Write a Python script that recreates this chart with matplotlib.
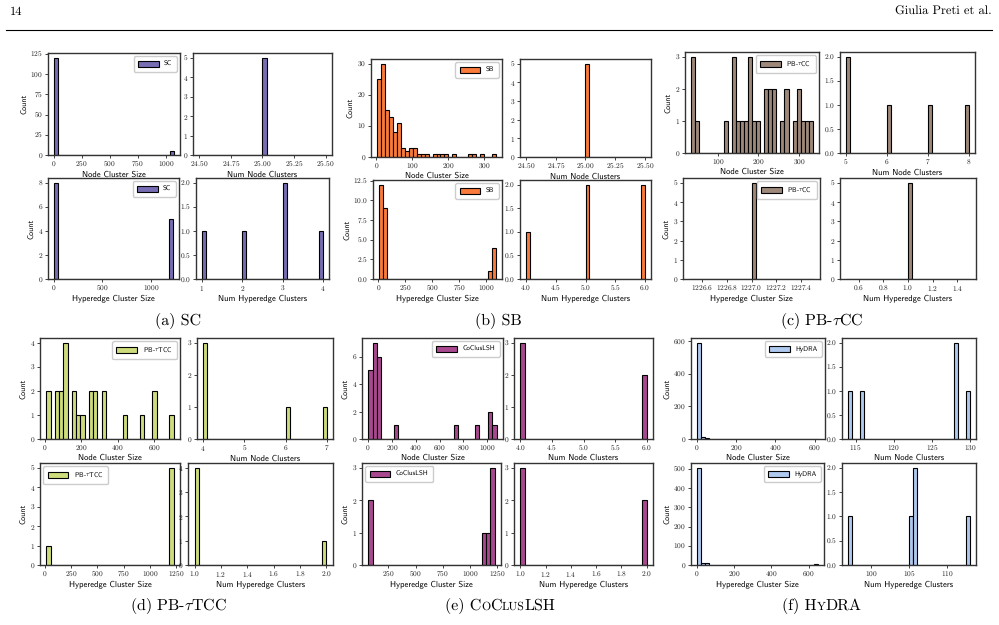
import numpy as np
import matplotlib
matplotlib.use("Agg")
import matplotlib.pyplot as plt
from matplotlib.ticker import MultipleLocator, ScalarFormatter
from matplotlib.lines import Line2D

plt.rcParams["font.family"] = ["cmr10", "DejaVu Serif"]
plt.rcParams["mathtext.fontset"] = "cm"
plt.rcParams["axes.formatter.use_mathtext"] = True
plt.rcParams["text.hinting"] = "no_hinting"
plt.rcParams["text.hinting_factor"] = 1

W, H = 999, 625

# --- data: histogram bin counts (30 bins) for cluster sizes, raw values for cluster counts ---
sc_node_size_counts = [120, 0, 0, 0, 0, 0, 0, 0, 0, 0, 0, 0, 0, 0, 0,
                       0, 0, 0, 0, 0, 0, 0, 0, 0, 0, 0, 0, 0, 0, 5]
sc_node_size_range = (3, 1072)
sc_hyper_size_counts = [8, 0, 0, 0, 0, 0, 0, 0, 0, 0, 0, 0, 0, 0, 0,
                        0, 0, 0, 0, 0, 0, 0, 0, 0, 0, 0, 0, 0, 0, 5]
sc_hyper_size_range = (3, 1227)
sc_num_nodes = [25, 25, 25, 25, 25]
sc_num_hyper = [1, 2, 3, 3, 4]

sb_node_size_counts = [25, 30, 15, 13, 8, 11, 3, 2, 3, 3, 1, 1, 1, 0, 1,
                       1, 1, 1, 0, 1, 0, 0, 0, 1, 1, 0, 1, 0, 0, 1]
sb_node_size_range = (2, 333)
sb_hyper_size_counts = [12, 9, 0, 0, 0, 0, 0, 0, 0, 0, 0, 0, 0, 0, 0,
                        0, 0, 0, 0, 0, 0, 0, 0, 0, 0, 0, 0, 0, 1, 4]
sb_hyper_size_range = (4, 1091)
sb_num_nodes = [25, 25, 25, 25, 25]
sb_num_hyper = [4, 5, 5, 6, 6]

pbcc_node_size_counts = [3, 1, 0, 0, 0, 0, 0, 0, 1, 0, 3, 1, 1, 1, 3,
                         1, 1, 0, 2, 2, 2, 0, 1, 2, 0, 1, 2, 1, 1, 1]
pbcc_node_size_range = (34, 334)
pbcc_hyper_size_counts = [0, 0, 0, 0, 0, 0, 0, 0, 0, 0, 0, 0, 0, 0, 0,
                          5, 0, 0, 0, 0, 0, 0, 0, 0, 0, 0, 0, 0, 0, 0]
pbcc_hyper_size_range = (1226.5, 1227.5)
pbcc_num_nodes = [5, 5, 6, 7, 8]
pbcc_num_hyper = [1, 1, 1, 1, 1]

pbtcc_node_size_counts = [2, 0, 2, 2, 4, 0, 2, 1, 1, 0, 2, 2, 0, 2, 0,
                          0, 0, 0, 1, 0, 0, 0, 1, 0, 0, 2, 0, 0, 0, 1]
pbtcc_node_size_range = (9, 705)
pbtcc_hyper_size_counts = [1, 0, 0, 0, 0, 0, 0, 0, 0, 0, 0, 0, 0, 0, 0,
                           0, 0, 0, 0, 0, 0, 0, 0, 0, 0, 0, 0, 0, 0, 5]
pbtcc_hyper_size_range = (16, 1227)
pbtcc_num_nodes = [4, 4, 4, 6, 7]
pbtcc_num_hyper = [1, 1, 1, 1, 2]

cocl_node_size_counts = [5, 7, 6, 0, 0, 0, 1, 0, 0, 0, 0, 0, 0, 0, 0,
                         0, 0, 0, 0, 0, 1, 0, 0, 0, 0, 1, 0, 0, 2, 1]
cocl_node_size_range = (3, 1078)
cocl_hyper_size_counts = [2, 0, 0, 0, 0, 0, 0, 0, 0, 0, 0, 0, 0, 0, 0,
                          0, 0, 0, 0, 0, 0, 0, 0, 0, 0, 0, 0, 1, 1, 3]
cocl_hyper_size_range = (65, 1227)
cocl_num_nodes = [4, 4, 4, 6, 6]
cocl_num_hyper = [1, 1, 1, 2, 2]

hydra_node_size_counts = [590, 14, 6, 0, 0, 0, 0, 0, 0, 0, 0, 0, 0, 0, 0,
                          0, 0, 0, 0, 0, 0, 0, 0, 0, 0, 0, 0, 0, 0, 2]
hydra_node_size_range = (1, 622)
hydra_hyper_size_counts = [505, 10, 8, 0, 0, 0, 0, 0, 0, 0, 0, 0, 0, 0, 0,
                           0, 0, 0, 0, 0, 0, 0, 0, 0, 0, 0, 0, 0, 0, 4]
hydra_hyper_size_range = (1, 650)
hydra_num_nodes = [114, 116, 128, 128, 130]
hydra_num_hyper = [97, 105, 106, 106, 113]

methods = ["SC", "SB", r"PB-$\tau$CC", r"PB-$\tau$TCC", "CoClusLSH", "HyDRA"]
colors = ["#766db3", "#f97a3b", "#9d8879", "#cfdc7c", "#a8488f", "#afc8ee"]

fig = plt.figure(figsize=(W / 100, H / 100), dpi=100)


def add_ax(l, r, t, b):
    return fig.add_axes([l / W, 1 - b / H, (r - l) / W, (b - t) / H])


def style(ax, xstep, ystep, xlabel, ylabel=None, offset=True):
    ax.xaxis.set_major_locator(MultipleLocator(xstep))
    ax.yaxis.set_major_locator(MultipleLocator(ystep))
    if not offset:
        ax.xaxis.set_major_formatter(ScalarFormatter(useOffset=False))
    ax.tick_params(labelsize=5.3, length=2, width=0.6, pad=1.5, colors="#222222")
    for s in ax.spines.values():
        s.set_linewidth(1.0)
        s.set_color("#333333")
    ax.set_xlabel(xlabel, family="cmss10", fontsize=6.2, labelpad=1)
    if ylabel:
        ax.set_ylabel(ylabel, family="cmss10", fontsize=5.8, labelpad=2)


def size_hist(ax, counts, rng, color, label, loc):
    edges = np.linspace(rng[0], rng[1], len(counts) + 1)
    ax.bar(edges[:-1], counts, width=np.diff(edges), align="edge",
           color=color, edgecolor="black", linewidth=0.8, label=label)
    ax.legend(loc=loc, prop={"family": "cmss10", "size": 5},
              handlelength=3.0, handleheight=1.0, borderpad=0.6,
              edgecolor="0.8", framealpha=1)


def num_hist(ax, values, color):
    ax.hist(values, bins=30, color=color, edgecolor="black", linewidth=0.8)


panels = [
    dict(m=0, ns=(sc_node_size_counts, sc_node_size_range), nn=sc_num_nodes,
         hs=(sc_hyper_size_counts, sc_hyper_size_range), hn=sc_num_hyper,
         steps=[(250, 25), (0.25, 1), (500, 2), (1, 0.5)], locs=["upper right", "upper right"],
         pos=[(48, 180, 53, 155), (193, 332, 53, 155), (48, 179, 178, 279), (196, 329, 178, 279)]),
    dict(m=1, ns=(sb_node_size_counts, sb_node_size_range), nn=sb_num_nodes,
         hs=(sb_hyper_size_counts, sb_hyper_size_range), hn=sb_num_hyper,
         steps=[(100, 10), (0.25, 1), (250, 2.5), (0.5, 0.5)], locs=["upper right", "upper right"],
         pos=[(371, 502, 59, 157), (520, 651, 59, 157), (373, 502, 180, 279), (520, 651, 180, 279)]),
    dict(m=2, ns=(pbcc_node_size_counts, pbcc_node_size_range), nn=pbcc_num_nodes,
         hs=(pbcc_hyper_size_counts, pbcc_hyper_size_range), hn=pbcc_num_hyper,
         steps=[(100, 1), (1, 0.5), (0.2, 1), (0.2, 1)], locs=["upper right", "upper right"],
         pos=[(685, 819, 52, 153), (840, 975, 52, 153), (683, 820, 178, 279), (840, 976, 178, 279)]),
    dict(m=3, ns=(pbtcc_node_size_counts, pbtcc_node_size_range), nn=pbtcc_num_nodes,
         hs=(pbtcc_hyper_size_counts, pbtcc_hyper_size_range), hn=pbtcc_num_hyper,
         steps=[(200, 1), (1, 1), (250, 1), (0.2, 1)], locs=["upper right", "upper left"],
         pos=[(40, 180, 338, 439), (197, 333, 338, 439), (40, 180, 463, 565), (188, 333, 463, 565)]),
    dict(m=4, ns=(cocl_node_size_counts, cocl_node_size_range), nn=cocl_num_nodes,
         hs=(cocl_hyper_size_counts, cocl_hyper_size_range), hn=cocl_num_hyper,
         steps=[(200, 2), (0.5, 1), (250, 1), (0.2, 1)], locs=["upper right", "upper left"],
         pos=[(362, 503, 338, 439), (514, 653, 338, 439), (362, 501, 463, 565), (514, 653, 463, 565)]),
    dict(m=5, ns=(hydra_node_size_counts, hydra_node_size_range), nn=hydra_num_nodes,
         hs=(hydra_hyper_size_counts, hydra_hyper_size_range), hn=hydra_num_hyper,
         steps=[(200, 200), (5, 0.5), (200, 100), (5, 0.5)], locs=["upper right", "upper right"],
         pos=[(691, 825, 338, 439), (842, 976, 338, 439), (691, 824, 463, 565), (842, 976, 463, 565)]),
]

for p in panels:
    c = colors[p["m"]]
    lab = methods[p["m"]]
    a1, a2, a3, a4 = [add_ax(*q) for q in p["pos"]]
    size_hist(a1, p["ns"][0], p["ns"][1], c, lab, p["locs"][0])
    num_hist(a2, p["nn"], c)
    size_hist(a3, p["hs"][0], p["hs"][1], c, lab, p["locs"][1])
    num_hist(a4, p["hn"], c)
    style(a1, *p["steps"][0], "Node Cluster Size", "Count")
    style(a2, *p["steps"][1], "Num Node Clusters")
    style(a3, *p["steps"][2], "Hyperedge Cluster Size", "Count", offset=False)
    style(a4, *p["steps"][3], "Num Hyperedge Clusters")

# header
fig.text(10 / W, 1 - 12 / H, "14", fontsize=9, va="center", ha="left")
fig.text(992 / W, 1 - 12 / H, "Giulia Preti et al.", fontsize=9, va="center", ha="right")
fig.add_artist(Line2D([6 / W, 992 / W], [1 - 30 / H, 1 - 30 / H], color="black", linewidth=0.8))

# captions with small caps approximated by smaller capitals
big, small = 11.5, 8.5
captions = [
    (178, 325, [("(a) SC", big)]),
    (498, 325, [("(b) SB", big)]),
    (822, 325, [(r"(c) PB-$\tau$CC", big)]),
    (178, 610, [(r"(d) PB-$\tau$TCC", big)]),
    (500, 610, [("(e) C", big), ("O", small), ("C", big), ("LUS", small), ("LSH", big)]),
    (822, 610, [("(f) H", big), ("Y", small), ("DRA", big)]),
]
renderer = fig.canvas.get_renderer()
for xc, yb, pieces in captions:
    texts = [fig.text(0, 1 - yb / H, s, fontsize=fs, va="baseline", ha="left") for s, fs in pieces]
    widths = [t.get_window_extent(renderer=renderer).width for t in texts]
    x = xc - sum(widths) / 2
    for t, w in zip(texts, widths):
        t.set_x(x / W)
        x += w

fig.savefig("out.png", dpi=100)
